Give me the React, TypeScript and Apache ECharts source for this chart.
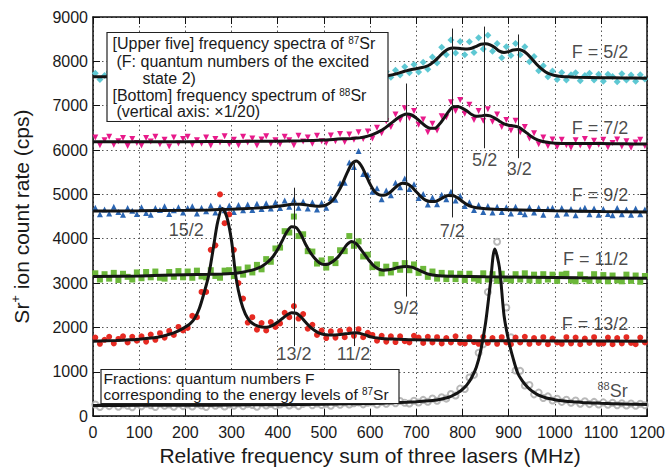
import React, { useEffect, useRef } from "react";
import * as echarts from "echarts";

const FONT = "'Liberation Sans', Arial, Helvetica, sans-serif";

// axis ranges
const xMin = 0, xMax = 1200, xStep = 100;
const yMin = 0, yMax = 9000, yStep = 1000;

// sample frequencies of the measured points (MHz)
const dataFreq: number[] = Array.from({ length: 120 }, (_, i) => 5 + 10 * i);

// measured count rates (cps)
const cyanData = [
  7730, 7590, 7680, 7760, 7560, 7650, 7720, 7610, 7750, 7630,
  7700, 7570, 7740, 7640, 7550, 7710, 7670, 7770, 7600, 7680,
  7580, 7740, 7690, 7620, 7760, 7560, 7700, 7640, 7750, 7590,
  7680, 7770, 7580, 7650, 7720, 7610, 7560, 7740, 7670, 7600,
  7720, 7640, 7570, 7770, 7680, 7610, 7750, 7560, 7700, 7640,
  7590, 7740, 7670, 7570, 7770, 7640, 7720, 7600, 7690, 7750,
  7600, 7760, 7590, 7770, 7640, 7800, 7690, 7880, 7740, 7930,
  7760, 7980, 7820, 8100, 7960, 8320, 8150, 8480, 8190, 8450,
  8150, 8440, 8200, 8530, 8280, 8590, 8230, 8400, 8080, 8330,
  8130, 8400, 8150, 8330, 7990, 8110, 7790, 7900, 7650, 7780,
  7590, 7750, 7580, 7700, 7740, 7560, 7680, 7730, 7580, 7710,
  7550, 7710, 7660, 7540, 7720, 7580, 7690, 7550, 7700, 7600,
];
const magentaData = [
  6280, 6110, 6220, 6300, 6120, 6200, 6270, 6090, 6250, 6160,
  6100, 6270, 6190, 6300, 6130, 6230, 6080, 6280, 6150, 6250,
  6300, 6120, 6220, 6150, 6280, 6100, 6250, 6170, 6310, 6130,
  6230, 6110, 6300, 6170, 6260, 6100, 6240, 6310, 6140, 6220,
  6130, 6300, 6220, 6110, 6320, 6190, 6280, 6140, 6320, 6200,
  6160, 6330, 6200, 6360, 6180, 6350, 6230, 6400, 6250, 6420,
  6260, 6500, 6380, 6650, 6520, 6800, 6680, 6940, 6720, 6880,
  6570, 6690, 6400, 6590, 6440, 6760, 6740, 7080, 6880, 7130,
  6820, 7020, 6680, 6880, 6660, 6920, 6640, 6800, 6520, 6680,
  6440, 6660, 6400, 6520, 6260, 6380, 6130, 6280, 6090, 6240,
  6070, 6230, 6110, 6050, 6220, 6100, 6250, 6060, 6210, 6120,
  6230, 6060, 6160, 6240, 6080, 6200, 6050, 6170, 6230, 6090,
];
const blueData = [
  4700, 4550, 4660, 4570, 4720, 4600, 4540, 4690, 4630, 4560,
  4710, 4580, 4540, 4690, 4650, 4730, 4560, 4640, 4710, 4590,
  4690, 4730, 4570, 4700, 4620, 4750, 4590, 4720, 4640, 4750,
  4600, 4760, 4640, 4770, 4650, 4790, 4670, 4800, 4680, 4820,
  4690, 4860, 4720, 4880, 4700, 4840, 4680, 4820, 4660, 4810,
  4700, 4920, 4880, 5250, 5260, 5720, 5620, 5980, 5460, 5440,
  5060, 5140, 4890, 5090, 4980, 5260, 5160, 5360, 5120, 5230,
  4920, 5010, 4770, 4930, 4780, 4990, 4890, 5060, 4860, 4970,
  4740, 4820, 4650, 4760, 4600, 4740, 4590, 4720, 4600, 4710,
  4570, 4720, 4600, 4550, 4710, 4590, 4700, 4540, 4680, 4700,
  4540, 4690, 4570, 4670, 4530, 4660, 4700, 4550, 4680, 4540,
  4670, 4560, 4530, 4690, 4550, 4660, 4540, 4680, 4550, 4660,
];
const greenData = [
  3220, 3080, 3200, 3100, 3230, 3070, 3210, 3140, 3080, 3240,
  3110, 3250, 3130, 3260, 3120, 3100, 3250, 3140, 3270, 3130,
  3260, 3120, 3280, 3150, 3130, 3290, 3160, 3120, 3280, 3290,
  3160, 3310, 3190, 3350, 3240, 3410, 3310, 3540, 3480, 3780,
  3800, 4170, 4140, 4500, 4060, 4100, 3720, 3710, 3440, 3510,
  3350, 3540, 3450, 3740, 3720, 4060, 3840, 3940, 3600, 3640,
  3360, 3420, 3220, 3370, 3240, 3410, 3300, 3450, 3290, 3420,
  3230, 3320, 3140, 3260, 3100, 3230, 3090, 3220, 3090, 3210,
  3070, 3210, 3100, 3060, 3220, 3080, 3200, 3050, 3210, 3090,
  3060, 3200, 3080, 3220, 3060, 3190, 3050, 3200, 3080, 3190,
  3050, 3190, 3210, 3060, 3040, 3190, 3090, 3050, 3200, 3060,
  3180, 3040, 3170, 3060, 3040, 3190, 3050, 3170, 3030, 3160,
];
const redData = [
  1770, 1630, 1720, 1790, 1640, 1740, 1800, 1660, 1790, 1700,
  1800, 1680, 1840, 1720, 1870, 1770, 1920, 1830, 2010, 1930,
  1990, 2260, 2230, 2800, 2800, 3750, 3850, 5000, 4350, 4550,
  3750, 3000, 2650, 2110, 2230, 1950, 2100, 1930, 2120, 2010,
  2090, 2330, 2230, 2480, 2200, 2300, 1970, 2060, 1830, 1930,
  1760, 1910, 1770, 1920, 1780, 1950, 1810, 1960, 1780, 1880,
  1830, 1700, 1810, 1680, 1800, 1670, 1800, 1690, 1660, 1810,
  1770, 1650, 1790, 1660, 1780, 1640, 1760, 1660, 1800, 1650,
  1640, 1780, 1670, 1630, 1790, 1650, 1760, 1630, 1780, 1660,
  1620, 1770, 1660, 1790, 1630, 1760, 1650, 1780, 1620, 1750,
  1660, 1630, 1780, 1640, 1770, 1620, 1750, 1650, 1780, 1630,
  1640, 1770, 1620, 1760, 1640, 1780, 1650, 1620, 1770, 1660,
];
const grayData = [
  260, 205, 275, 225, 285, 210, 265, 235, 200, 280,
  220, 275, 245, 205, 285, 235, 265, 210, 280, 225,
  265, 215, 280, 240, 205, 285, 235, 270, 215, 265,
  235, 285, 225, 270, 250, 210, 290, 240, 275, 230,
  260, 295, 240, 280, 225, 275, 300, 245, 285, 250,
  280, 235, 295, 255, 305, 260, 290, 310, 265, 300,
  310, 260, 320, 280, 335, 290, 340, 300, 285, 345,
  305, 365, 325, 395, 345, 425, 395, 500, 465, 620,
  610, 870, 930, 1430, 1620, 2800, 3120, 3930, 3080, 2450,
  1780, 1030, 1020, 690, 700, 490, 530, 410, 445, 350,
  390, 320, 370, 300, 350, 280, 335, 270, 320, 260,
  310, 255, 300, 245, 290, 240, 285, 235, 280, 245,
];

// fitted curves [MHz, cps]
const cyanFit = [
  [0, 7655], [100, 7655], [200, 7652], [300, 7655], [400, 7655], [500, 7652], [600, 7655],
  [620, 7660], [630, 7670], [640, 7680], [650, 7700], [660, 7730], [670, 7760], [680, 7790],
  [690, 7815], [700, 7835], [710, 7855], [720, 7880], [730, 7930], [740, 8010], [750, 8110],
  [760, 8210], [770, 8280], [780, 8300], [790, 8295], [800, 8285], [810, 8280], [820, 8295],
  [830, 8340], [840, 8385], [850, 8395], [860, 8370], [870, 8310], [880, 8230], [890, 8200],
  [900, 8220], [910, 8255], [920, 8265], [930, 8240], [940, 8170], [950, 8060], [960, 7940],
  [970, 7840], [980, 7760], [990, 7710], [1000, 7680], [1010, 7665], [1020, 7655], [1030, 7650],
  [1050, 7642], [1100, 7632], [1150, 7624], [1200, 7620],
];
const magentaFit = [
  [0, 6185], [100, 6185], [200, 6188], [300, 6192], [400, 6200], [450, 6208], [500, 6225],
  [520, 6240], [540, 6252], [560, 6262], [570, 6270], [580, 6280], [590, 6300], [600, 6330],
  [610, 6370], [620, 6420], [630, 6480], [640, 6560], [650, 6640], [660, 6720], [670, 6780],
  [680, 6810], [690, 6790], [700, 6720], [710, 6630], [720, 6540], [730, 6490], [740, 6490],
  [750, 6580], [760, 6720], [770, 6870], [780, 6975], [790, 6980], [800, 6940], [810, 6880],
  [820, 6800], [830, 6760], [840, 6770], [850, 6785], [860, 6770], [870, 6720], [880, 6650],
  [890, 6590], [900, 6560], [910, 6545], [920, 6520], [930, 6460], [940, 6380], [950, 6300],
  [960, 6240], [970, 6205], [980, 6180], [990, 6165], [1000, 6155], [1050, 6148], [1100, 6145],
  [1150, 6140], [1200, 6135],
];
const blueFit = [
  [0, 4625], [100, 4630], [200, 4640], [250, 4650], [300, 4665], [350, 4690], [380, 4710],
  [400, 4730], [420, 4760], [430, 4775], [440, 4780], [450, 4775], [460, 4765], [470, 4750],
  [480, 4740], [490, 4735], [500, 4745], [510, 4790], [520, 4880], [530, 5040], [540, 5240],
  [550, 5480], [560, 5680], [570, 5750], [580, 5660], [590, 5460], [600, 5230], [610, 5060],
  [620, 4990], [630, 4980], [640, 5020], [650, 5110], [660, 5200], [670, 5250], [680, 5240],
  [690, 5170], [700, 5060], [710, 4950], [720, 4870], [730, 4840], [740, 4840], [750, 4880],
  [760, 4940], [770, 4975], [780, 4970], [790, 4920], [800, 4840], [810, 4770], [820, 4725],
  [830, 4700], [840, 4685], [850, 4675], [870, 4665], [900, 4655], [950, 4640], [1000, 4630],
  [1100, 4615], [1200, 4605],
];
const greenFit = [
  [0, 3150], [100, 3160], [150, 3175], [200, 3188], [250, 3198], [280, 3205], [300, 3215],
  [320, 3240], [340, 3280], [350, 3310], [360, 3350], [370, 3410], [380, 3490], [390, 3600],
  [400, 3760], [410, 3960], [420, 4160], [430, 4270], [440, 4250], [450, 4100], [460, 3880],
  [470, 3700], [480, 3560], [490, 3460], [500, 3420], [510, 3430], [520, 3490], [530, 3580],
  [540, 3720], [550, 3870], [560, 3940], [570, 3890], [580, 3760], [590, 3620], [600, 3480],
  [610, 3370], [620, 3310], [630, 3290], [640, 3300], [650, 3320], [660, 3350], [670, 3370],
  [680, 3375], [690, 3360], [700, 3320], [710, 3270], [720, 3225], [730, 3195], [740, 3175],
  [750, 3165], [760, 3158], [780, 3152], [850, 3140], [950, 3130], [1050, 3120], [1200, 3110],
];
const redFit = [
  [0, 1690], [50, 1705], [80, 1720], [100, 1735], [120, 1755], [140, 1780], [150, 1800],
  [160, 1830], [170, 1860], [180, 1900], [190, 1950], [200, 2010], [210, 2080], [220, 2200],
  [230, 2420], [240, 2760], [250, 3150], [260, 3750], [270, 4380], [280, 4680], [290, 4480],
  [300, 3950], [310, 3100], [320, 2600], [330, 2300], [340, 2140], [350, 2060], [360, 2020],
  [370, 2005], [380, 2010], [390, 2050], [400, 2120], [410, 2200], [420, 2280], [430, 2330],
  [440, 2320], [450, 2240], [460, 2120], [470, 2010], [480, 1930], [490, 1870], [500, 1840],
  [510, 1830], [520, 1830], [530, 1835], [540, 1845], [550, 1860], [560, 1875], [570, 1880],
  [580, 1860], [590, 1830], [600, 1790], [610, 1770], [620, 1755], [630, 1745], [640, 1740],
  [660, 1735], [700, 1720], [800, 1705], [900, 1700], [1000, 1695], [1200, 1690],
];
const grayFit = [
  [0, 240], [100, 242], [200, 245], [300, 250], [400, 258], [500, 270], [550, 277], [600, 286],
  [650, 300], [680, 313], [700, 324], [720, 338], [740, 360], [750, 376], [760, 398], [770, 425],
  [780, 470], [790, 525], [800, 600], [810, 710], [820, 870], [830, 1100], [840, 1500],
  [850, 2100], [860, 2950], [870, 3770], [880, 3350], [890, 2270], [900, 1700], [910, 1290],
  [920, 960], [930, 790], [940, 660], [950, 570], [960, 500], [970, 450], [980, 415], [990, 390],
  [1000, 370], [1020, 343], [1040, 324], [1060, 309], [1080, 298], [1100, 289], [1150, 272],
  [1200, 261],
];

// hyperfine assignment labels and marker lines (MHz, cps)
const hfsLabels = ["15/2", "13/2", "11/2", "9/2", "7/2", "5/2", "3/2"];
const hfsLabelX = [202, 435, 564, 678, 778, 848, 923];
const hfsLabelY = [4189, 1401, 1401, 2427, 4167, 5773, 5572];
const lineFreqs = [435, 566, 678, 777, 848, 921];
const lineTops = [5150, 5750, 7500, 8740, 8784, 8606];
const lineBottoms = [1580, 1580, 2695, 4480, 6040, 5817];

const fLabels = ["F = 5/2", "F = 7/2", "F = 9/2", "F = 11/2", "F = 13/2"];
const fLabelX = 1159;
const fLabelY = [8204, 6487, 4981, 3542, 2081];
const srLabelPos = [1125, 575];

const SUP = { fontSize: 10, lineHeight: 10, verticalAlign: "top", fontFamily: FONT, color: "#1a1a1a" };

export default function App() {
  const ref = useRef<HTMLDivElement>(null);
  useEffect(() => {
    if (!ref.current) return;
    const chart = echarts.init(ref.current, undefined, { renderer: "svg" });

    const axisLineStyle = { color: "#111", width: 1.5 };
    const mkX = (pos: string, main: boolean) => ({
      type: "value",
      min: xMin, max: xMax, interval: xStep,
      position: pos,
      axisLine: { show: true, onZero: false, lineStyle: axisLineStyle },
      axisTick: { show: true, inside: true, length: 7, lineStyle: { color: "#111", width: 1 } },
      axisLabel: { show: main, fontSize: 16, color: "#1a1a1a", margin: 8, fontFamily: FONT, formatter: (v: number) => String(v) },
      splitLine: { show: main, lineStyle: { type: [1.5, 3], color: "#555", width: 1 } },
      ...(main ? {
        name: "Relative frequency sum of three lasers (MHz)",
        nameLocation: "middle", nameGap: 27,
        nameTextStyle: { fontSize: 21, color: "#1a1a1a", fontFamily: FONT },
      } : {}),
    });
    const mkY = (pos: string, main: boolean) => ({
      type: "value",
      min: yMin, max: yMax, interval: yStep,
      position: pos,
      axisLine: { show: true, onZero: false, lineStyle: axisLineStyle },
      axisTick: { show: true, inside: true, length: 7, lineStyle: { color: "#111", width: 1 } },
      axisLabel: { show: main, fontSize: 16, color: "#1a1a1a", margin: 5, fontFamily: FONT, formatter: (v: number) => String(v) },
      splitLine: { show: main, lineStyle: { type: [1.5, 3], color: "#555", width: 1 } },
      ...(main ? {
        name: "{a|Sr}{b|+}{a| ion count rate (cps)}",
        nameLocation: "middle", nameGap: 60,
        nameTextStyle: {
          fontSize: 21, color: "#1a1a1a", fontFamily: FONT,
          rich: {
            a: { fontSize: 21, lineHeight: 24, fontFamily: FONT, color: "#1a1a1a" },
            b: { fontSize: 13, lineHeight: 13, verticalAlign: "top", fontFamily: FONT, color: "#1a1a1a" },
          },
        },
      } : {}),
    });

    const scatterSeries = (data: number[], color: string, symbol: string, size: number, extra: any = {}) => ({
      type: "scatter",
      data: dataFreq.map((f, i) => [f, data[i]]),
      symbol,
      symbolSize: size,
      itemStyle: { color, opacity: 1 },
      z: 2,
      silent: true,
      ...extra,
    });
    const fitSeries = (data: number[][]) => ({
      type: "line",
      data,
      showSymbol: false,
      symbol: "none",
      smooth: 0.3,
      lineStyle: { color: "#141414", width: 3 },
      z: 3,
      silent: true,
    });

    const annotationData: any[] = [];
    hfsLabels.forEach((t, i) => {
      annotationData.push({ value: [hfsLabelX[i], hfsLabelY[i]], name: t, label: { position: "inside", formatter: t } });
    });
    fLabels.forEach((t, i) => {
      annotationData.push({ value: [fLabelX, fLabelY[i]], name: t, label: { position: "left", distance: 0, formatter: t } });
    });
    annotationData.push({
      value: srLabelPos, name: "88Sr",
      label: { position: "inside", formatter: "{s|88}{n|Sr}" },
    });

    const boxText = (x: number, y: number, t: string, lh: number, fs = 16) => ({
      type: "text", z: 102, silent: true, x, y,
      style: {
        text: t,
        fill: "#1a1a1a",
        fontSize: fs,
        fontFamily: FONT,
        lineHeight: lh,
        align: "left", verticalAlign: "middle",
        textAlign: "left", textVerticalAlign: "middle",
        rich: {
          n: { fontSize: fs, lineHeight: lh, fontFamily: FONT, color: "#1a1a1a" },
          s: { ...SUP },
        },
      },
    });

    const option: any = {
      animation: false,
      backgroundColor: "#ffffff",
      textStyle: { fontFamily: FONT },
      grid: { left: 93, right: 16, top: 17, bottom: 50, containLabel: false },
      xAxis: [mkX("bottom", true), mkX("top", false)],
      yAxis: [mkY("left", true), mkY("right", false)],
      series: [
        scatterSeries(grayData, "#a8a8a8", "emptyCircle", 6, { itemStyle: { color: "#a8a8a8", borderWidth: 1 } }),
        scatterSeries(cyanData, "#5ec8d3", "diamond", 7),
        scatterSeries(magentaData, "#e8198a", "triangle", 6, { symbolRotate: 180 }),
        scatterSeries(blueData, "#2b66b3", "triangle", 6),
        scatterSeries(greenData, "#6cb83a", "rect", 6),
        scatterSeries(redData, "#e62a22", "circle", 6),
        fitSeries(grayFit),
        fitSeries(cyanFit),
        fitSeries(magentaFit),
        fitSeries(blueFit),
        fitSeries(greenFit),
        fitSeries(redFit),
        {
          type: "scatter",
          data: annotationData,
          symbolSize: 0,
          z: 5,
          silent: true,
          label: {
            show: true,
            fontSize: 18,
            color: "#1a1a1a",
            fontFamily: FONT,
            rich: {
              s: { ...SUP, fontSize: 11, lineHeight: 11 },
              n: { fontSize: 18, lineHeight: 20, fontFamily: FONT, color: "#1a1a1a" },
            },
          },
          markLine: {
            silent: true,
            symbol: ["none", "none"],
            label: { show: false },
            lineStyle: { color: "#222", width: 1, type: "solid" },
            emphasis: { disabled: true },
            data: lineFreqs.map((f, i) => [
              { coord: [f, lineTops[i]] },
              { coord: [f, lineBottoms[i]] },
            ]),
          },
        },
      ],
      graphic: [
        {
          type: "rect", z: 100, silent: true,
          shape: { x: 107, y: 32.5, width: 281, height: 89 },
          style: { fill: "#fff", stroke: "#222", lineWidth: 1.2 },
        },
        boxText(112.5, 43.5, "{n|[Upper five] frequency spectra of }{s|87}{n|Sr}", 16),
        boxText(116.5, 61, "{n|(F: quantum numbers of the excited}", 16),
        boxText(142.5, 78, "{n|state 2)}", 16),
        boxText(112.5, 95, "{n|[Bottom] frequency spectrum of }{s|88}{n|Sr}", 16),
        boxText(116.5, 111.5, "{n|(vertical axis: \u00d71/20)}", 16),
        {
          type: "rect", z: 100, silent: true,
          shape: { x: 101, y: 369.5, width: 298, height: 34 },
          style: { fill: "#fff", stroke: "#222", lineWidth: 1.2 },
        },
        boxText(103.5, 378, "{n|Fractions: quantum numbers F}", 15, 15.5),
        boxText(103.5, 394, "{n|corresponding to the energy levels of }{s|87}{n|Sr}", 15, 15.5),
      ],
    };
    chart.setOption(option);
    return () => chart.dispose();
  }, []);
  return (
    <div
      ref={ref}
      style={{ position: "absolute", left: 0, top: 0, width: 668, height: 471, background: "#fff" }}
    />
  );
}
